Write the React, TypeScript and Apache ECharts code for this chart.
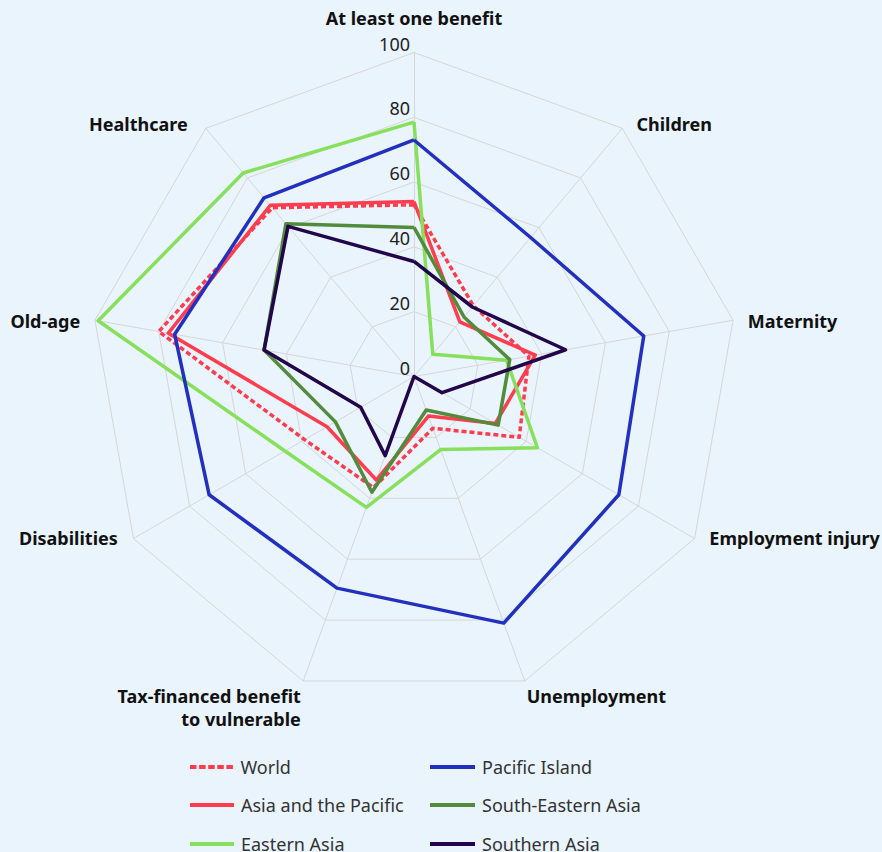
import React, { useEffect, useRef } from "react";
import * as echarts from "echarts";

// Indicators, clockwise from the top
const indicators = [
  "At least one benefit",
  "Children",
  "Maternity",
  "Employment injury",
  "Unemployment",
  "Tax-financed benefit\nto vulnerable",
  "Disabilities",
  "Old-age",
  "Healthcare",
];

const world = [53, 28.5, 36, 37.5, 17, 36.5, 39, 80, 68];
const asiaPacific = [54, 22, 38, 29, 13, 34, 31, 77, 69];
const easternAsia = [78.5, 9, 29, 44, 24, 43, 46, 99, 82];
const pacificIsland = [73, 56, 72, 73, 81, 69.5, 73, 75, 72];
const southEasternAsia = [46, 24, 30, 30, 11, 38, 28, 47, 61.5];
const southernAsia = [35.5, 28, 47.5, 10, 0, 26, 19, 47, 60.5];

const seriesNames = [
  "World",
  "Asia and the Pacific",
  "Eastern Asia",
  "Pacific Island",
  "South-Eastern Asia",
  "Southern Asia",
];
const seriesValues = [world, asiaPacific, easternAsia, pacificIsland, southEasternAsia, southernAsia];
const seriesColors = ["#FF3B4E", "#FF3D4F", "#86E05B", "#2230C0", "#528B3C", "#22054A"];
const seriesDashed = [true, false, false, false, false, false];

const tickMax = 100;
const splitCount = 5;

const FONT = "'Noto Sans', 'Open Sans', sans-serif";

// name placement tweaks per indicator (clockwise order)
const nameGaps = [23, 22, 15, 17, 5.5, 7, 18, 15, 28];
const nameLineHeights = [24, 44, 24, 36, 38, 24, 38, 24, 52];
const nameVAligns = ["middle", "bottom", "bottom", "top", "bottom", "middle", "top", "bottom", "bottom"];

// legend grid: column lefts and row tops
const legendLefts = [190, 190, 190, 430, 430, 430];
const legendTops = [757, 795, 834, 757, 795, 834];

export default function App() {
  const ref = useRef<HTMLDivElement>(null);

  useEffect(() => {
    document.body.style.margin = "0";
    if (!ref.current) return;
    const chart = echarts.init(ref.current, undefined, { renderer: "svg" });

    // ECharts lays radar indicators counter-clockwise; reorder to get clockwise order
    const order = indicators.map((_, i) => (i === 0 ? 0 : indicators.length - i));

    const nameBase = { fontSize: 18, fontWeight: "bold", color: "#111", fontFamily: FONT };
    const rich: any = {
      t1: { ...nameBase, lineHeight: 62, verticalAlign: "bottom" },
      t2: { ...nameBase, lineHeight: 28 },
    };
    indicators.forEach((_, i) => {
      rich["n" + i] = {
        ...nameBase,
        lineHeight: nameLineHeights[i],
        verticalAlign: nameVAligns[i],
      };
    });

    const indicatorOpts = order.map((idx, k) => {
      const o: any = {
        name: indicators[idx],
        max: tickMax,
        min: 0,
        nameGap: nameGaps[idx],
      };
      if (k === 0) {
        o.axisLabel = {
          show: true,
          fontSize: 18,
          color: "#222",
          fontFamily: FONT,
          margin: 4,
          verticalAlign: "bottom",
        };
      }
      return o;
    });

    const dottedIcon =
      "path://M0,0h6.5v4h-6.5z M9.1,0h6.5v4h-6.5z M18.2,0h6.5v4h-6.5z M27.3,0h6.5v4h-6.5z M36.4,0h6.5v4h-6.5z";

    const legends = seriesNames.map((n, i) => ({
      orient: "horizontal",
      left: legendLefts[i],
      top: legendTops[i],
      padding: 0,
      itemWidth: i < 3 ? 44 : 45,
      itemHeight: 4,
      selectedMode: false,
      textStyle: { fontSize: 18, color: "#333", fontFamily: FONT, lineHeight: 20, padding: [0, 0, 0, 2] },
      data: [
        {
          name: n,
          icon: seriesDashed[i] ? dottedIcon : "rect",
          itemStyle: { color: seriesColors[i], borderWidth: 0 },
        },
      ],
    }));

    chart.setOption({
      animation: false,
      backgroundColor: "#EAF4FC",
      textStyle: { fontFamily: FONT },
      legend: legends,
      radar: {
        center: [414, 376.5],
        radius: 324,
        shape: "polygon",
        splitNumber: splitCount,
        startAngle: 90,
        nameGap: 15,
        axisName: {
          ...nameBase,
          rich,
          formatter: (name: string) => {
            const i = indicators.indexOf(name);
            if (name.includes("\n")) {
              const [a, b] = name.split("\n");
              return `{t1|${a}}\n{t2|${b}}`;
            }
            return `{n${i}|${name}}`;
          },
        },
        axisLabel: { show: false },
        axisTick: { show: false },
        axisLine: { lineStyle: { color: "#D6D6D6", width: 1 } },
        splitLine: { lineStyle: { color: "#D6D6D6", width: 1 } },
        splitArea: { show: false },
        indicator: indicatorOpts,
      },
      series: [
        {
          type: "radar",
          symbol: "none",
          silent: true,
          emphasis: { disabled: true },
          data: seriesNames.map((n, i) => ({
            name: n,
            value: order.map((idx) => seriesValues[i][idx]),
            symbol: "none",
            itemStyle: { color: seriesColors[i] },
            lineStyle: {
              color: seriesColors[i],
              width: 3.5,
              type: seriesDashed[i] ? [5, 3] : "solid",
            },
          })),
        },
      ],
    });

    return () => chart.dispose();
  }, []);

  return <div ref={ref} style={{ width: 882, height: 852 }} />;
}
